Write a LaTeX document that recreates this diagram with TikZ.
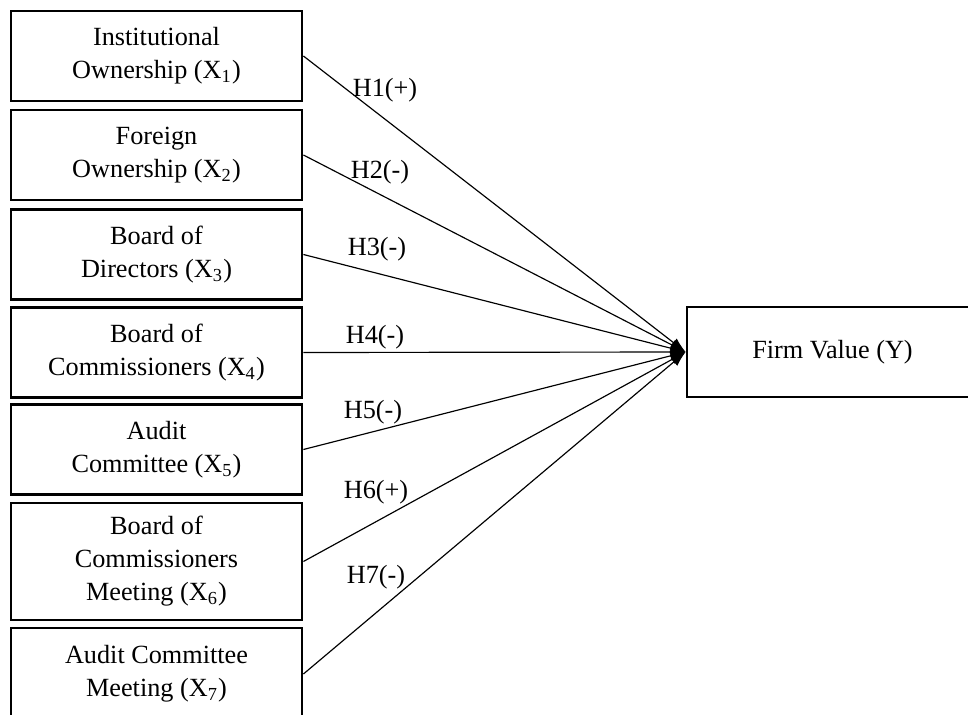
\documentclass[tikz,border=0pt]{standalone}
\usepackage{fontspec}
\setmainfont{Liberation Serif}
\usetikzlibrary{arrows.meta, positioning}

\begin{document}
\begin{tikzpicture}[x=0.015cm, y=-0.015cm,
    factor/.style={rectangle, draw=black, line width=1.2pt, minimum width=4.365cm, minimum height=1.35cm, align=center, inner sep=2pt, font=\fontsize{11.2}{14.1}\selectfont},
    hyp/.style={inner sep=1pt, font=\fontsize{11.2}{14.1}\selectfont},
    link/.style={line width=0.5pt, -{Latex[length=6.5pt, width=4.5pt]}}
]
    \useasboundingbox (0,0) rectangle (968,715);
    \clip (0,0) rectangle (968,715);

    \node[factor] (inst) at (156.5, 56) {Institutional\\Ownership (X\textsubscript{1})};
    \node[factor] (forgn) at (156.5, 155) {Foreign\\Ownership (X\textsubscript{2})};
    \node[factor] (bod) at (156.5, 254.5) {Board of\\Directors (X\textsubscript{3})};
    \node[factor] (boc) at (156.5, 352.5) {Board of\\Commissioners (X\textsubscript{4})};
    \node[factor] (audit) at (156.5, 449.5) {Audit\\Committee (X\textsubscript{5})};
    \node[factor, minimum height=1.755cm] (bocmeet) at (156.5, 561.5) {Board of\\Commissioners\\Meeting (X\textsubscript{6})};
    \node[factor, minimum height=1.38cm] (acmeet) at (156.5, 674) {Audit Committee\\Meeting (X\textsubscript{7})};

    \node[factor] (firm) at (832.5, 352) {Firm Value (Y)};

    \draw[link] (inst.east) -- (firm.west);
    \draw[link] (forgn.east) -- (firm.west);
    \draw[link] (bod.east) -- (firm.west);
    \draw[link] (boc.east) -- (firm.west);
    \draw[link] (audit.east) -- (firm.west);
    \draw[link] (bocmeet.east) -- (firm.west);
    \draw[link] (acmeet.east) -- (firm.west);

    \node[hyp] (h1) at (385, 90) {H1(+)};
    \node[hyp] (h2) at (380, 172) {H2(-)};
    \node[hyp] (h3) at (377, 249) {H3(-)};
    \node[hyp] (h4) at (375, 337) {H4(-)};
    \node[hyp] (h5) at (373, 412) {H5(-)};
    \node[hyp] (h6) at (376, 492) {H6(+)};
    \node[hyp] (h7) at (376, 577) {H7(-)};
\end{tikzpicture}
\end{document}
